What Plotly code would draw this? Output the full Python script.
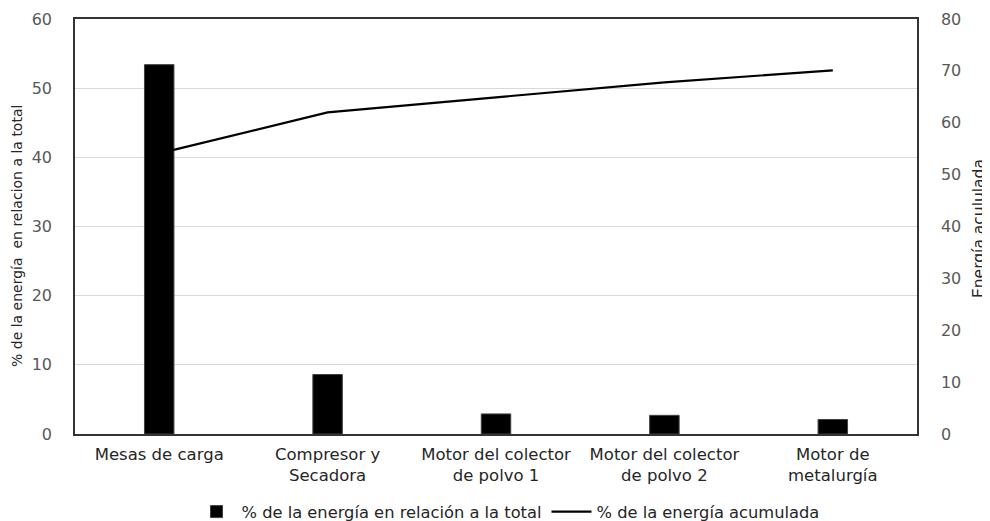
import plotly.graph_objects as go

categories = ["Mesas de carga", "Compresor y<br>Secadora", "Motor del colector<br>de polvo 1",
              "Motor del colector<br>de polvo 2", "Motor de<br>metalurgía"]
energy_pct = [53.4, 8.6, 2.9, 2.7, 2.1]
cumulative_pct = [54.1, 62.0, 64.9, 67.8, 70.1]

left_ticks = [0, 10, 20, 30, 40, 50, 60]
right_ticks = [0, 10, 20, 30, 40, 50, 60, 70, 80]

left_title = "% de la energía  en relacion a la total"
right_title = "Energía acululada"

FONT = "'DejaVu Sans', sans-serif"
GRAY = "#595959"
DARK = "#262626"

# page body has an 8px margin; size the figure so it fits the 990x521 window
OFF = 8
W, H = 990 - OFF, 521 - OFF
# target plot area in window pixels: x 75..917, y 19..434
L = 75 - OFF
T = 19 - OFF
R = W - (917 - OFF)
B = H - (434 - OFF)
PW, PH = W - L - R, H - T - B


def px_x(xw):
    return (xw - OFF - L) / PW


def px_y(yw):
    return (T + PH - (yw - OFF)) / PH


fig = go.Figure()
fig.add_trace(go.Bar(
    x=categories, y=energy_pct, name="% de la energía en relación a la total",
    marker=dict(color="black", line=dict(color="#404040", width=1)),
    yaxis="y",
))
fig.add_trace(go.Scatter(
    x=categories, y=cumulative_pct, name="% de la energía acumulada",
    mode="lines", line=dict(color="black", width=2.2),
    yaxis="y2",
))

fig.update_layout(
    width=W, height=H,
    margin=dict(l=L, r=R, t=T, b=B, autoexpand=False),
    paper_bgcolor="white", plot_bgcolor="white",
    font=dict(family=FONT, size=14, color=GRAY),
    bargap=0.825,
    showlegend=True,
    legend=dict(orientation="h", x=px_x(508), xanchor="center",
                y=px_y(512), yanchor="middle",
                font=dict(family=FONT, size=16.3, color=DARK),
                traceorder="normal", itemwidth=40, bgcolor="rgba(0,0,0,0)"),
    xaxis=dict(
        showgrid=False, showline=True, linecolor="#333333", linewidth=1.5,
        mirror=True, ticks="", ticklabelstandoff=4, automargin=False,
        tickfont=dict(family=FONT, size=16.5, color=DARK),
        fixedrange=True,
    ),
    yaxis=dict(
        range=[0, 60], tickvals=left_ticks, showgrid=True, gridcolor="#d9d9d9", gridwidth=1,
        showline=True, linecolor="#333333", linewidth=1.5, zeroline=False,
        ticks="", ticklabelstandoff=18, automargin=False,
        tickfont=dict(family=FONT, size=16, color=GRAY),
    ),
    yaxis2=dict(
        range=[0, 80], tickvals=right_ticks, overlaying="y", side="right",
        showgrid=False, showline=True, linecolor="#333333", linewidth=1.5, zeroline=False,
        ticks="", ticklabelstandoff=19, automargin=False,
        tickfont=dict(family=FONT, size=16, color=GRAY),
    ),
    annotations=[
        dict(text=left_title, textangle=-90, xref="paper", yref="paper",
             x=px_x(17), y=px_y(236), xanchor="center", yanchor="middle",
             showarrow=False, font=dict(family=FONT, size=14, color=DARK)),
        dict(text=right_title, textangle=-90, xref="paper", yref="paper",
             x=px_x(979), y=px_y(229), xanchor="center", yanchor="middle",
             showarrow=False, font=dict(family=FONT, size=15.5, color=DARK)),
    ],
)

fig.write_html("out.html")
